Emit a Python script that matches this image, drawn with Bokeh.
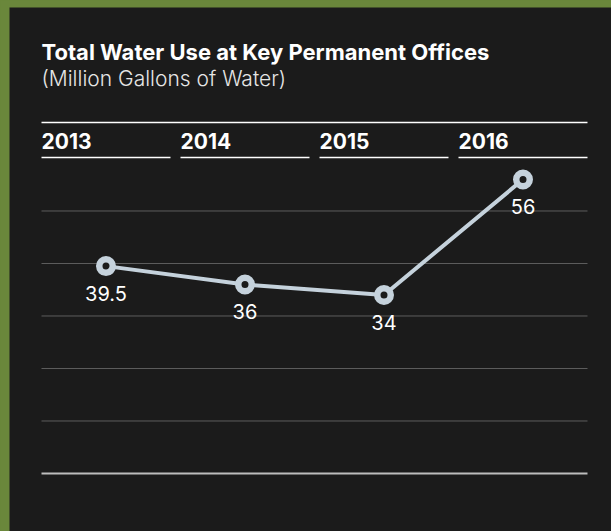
from bokeh.plotting import figure
from bokeh.models import Range1d, Label, GlobalInlineStyleSheet, ColumnDataSource
from bokeh.core.properties import value
from bokeh.embed import file_html
from bokeh.resources import INLINE

# ---- data ----
years = ["2013", "2014", "2015", "2016"]
water_use = [39.5, 36, 34, 56]
value_labels = ["39.5", "36", "34", "56"]
grid_values = [10, 20, 30, 40, 50]
title_text = "Total Water Use at Key Permanent Offices"
subtitle_text = "(Million Gallons of Water)"

# ---- style ----
BG = "#1b1b1b"
GREEN = "#6a873b"
LINE = "#c5d2dc"
FONT = "Inter"
LIGHT_FONT = "'Inter Light', Inter"
HALF = 0.464  # half width of a year column (in x units)

idx = list(range(len(years)))

p = figure(width=611, height=531, output_backend="svg", toolbar_location=None,
           x_range=Range1d(-0.6942, 3.6367), y_range=Range1d(-11.048, 88.762),
           min_border=0, min_border_left=9, min_border_top=7,
           outline_line_color=None,
           background_fill_color=BG, border_fill_color=GREEN)
p.axis.visible = False
p.grid.visible = False
p.stylesheets = [GlobalInlineStyleSheet(
    css=f"html,body{{margin:0;padding:0;overflow:hidden;background-color:{GREEN};}}")]

x_left = -HALF
x_right = idx[-1] + HALF

# horizontal grid lines
p.segment(x0=[x_left] * len(grid_values), x1=[x_right] * len(grid_values),
          y0=grid_values, y1=grid_values, line_color="#5e5e5e", line_width=1)
# baseline
p.segment(x0=[x_left], x1=[x_right], y0=[0], y1=[0], line_color="#bdbdbd", line_width=2)

# header lines
p.segment(x0=[x_left], x1=[x_right], y0=[66.86], y1=[66.86], line_color="white", line_width=1.3)
p.segment(x0=[i - HALF for i in idx], x1=[i + HALF for i in idx],
          y0=[60.19] * len(idx), y1=[60.19] * len(idx), line_color="white", line_width=1.3)

# year header labels
p.text(x=[i - HALF for i in idx], y=[64.95] * len(idx), text=years,
       text_font=value(FONT), text_font_style="bold", text_font_size="21px",
       text_color="white", text_align="left", text_baseline="top")

# line and markers
src = ColumnDataSource(dict(x=idx, y=water_use, lab=value_labels))
p.line("x", "y", source=src, line_color=LINE, line_width=4)
p.scatter("x", "y", source=src, size=13.5, fill_color=BG, line_color=LINE, line_width=6.5)
p.text("x", "y", text="lab", source=src, text_font=value(FONT), text_font_size="20px",
       text_color="white", text_align="center", text_baseline="top", y_offset=20)

# titles
p.add_layout(Label(x=x_left, y=82.67, text=title_text, text_font=FONT,
                   text_font_style="bold", text_font_size="22px", text_color="white",
                   text_baseline="top"))
p.add_layout(Label(x=x_left, y=77.71, text=subtitle_text, text_font=LIGHT_FONT,
                   text_font_size="21px", text_color="#e6e6e6",
                   text_baseline="top"))

open("out.html", "w").write(file_html(p, INLINE))
